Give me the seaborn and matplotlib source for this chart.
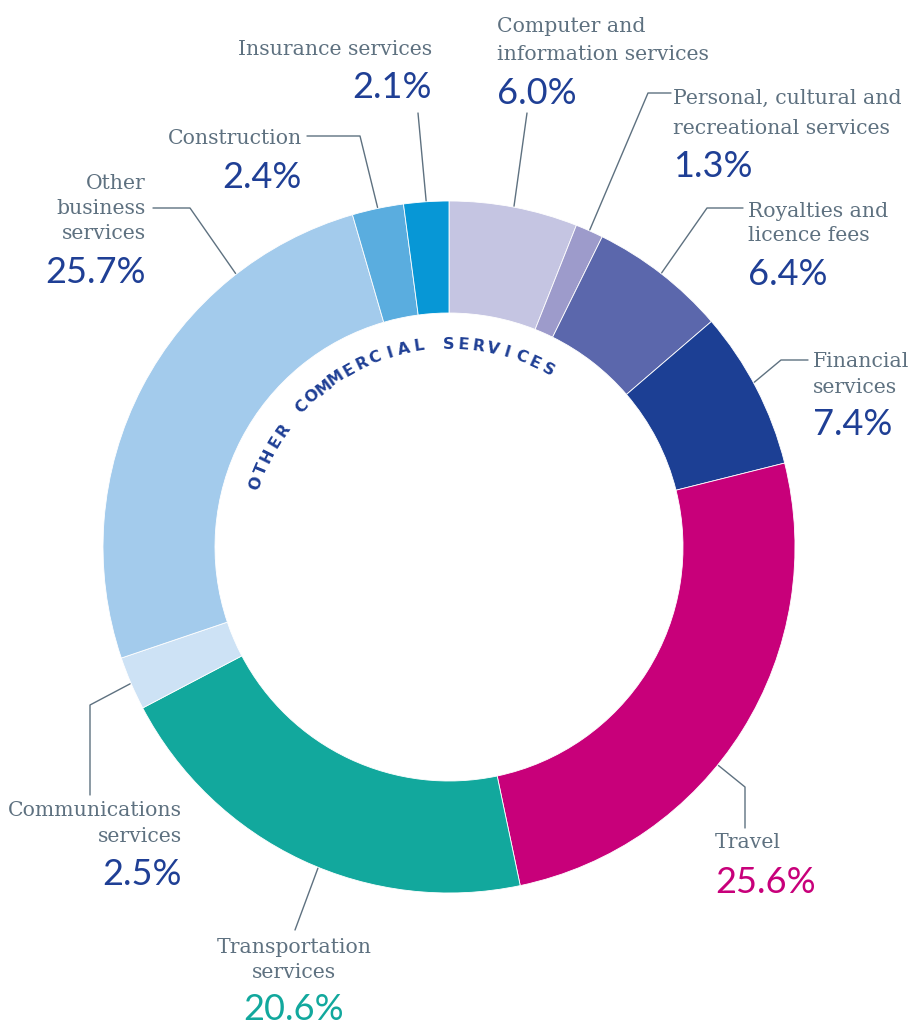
import numpy as np
import matplotlib.pyplot as plt
import seaborn as sns

# shares of other commercial services, clockwise from 12 o'clock
categories = ['Computer and\ninformation services',
              'Personal, cultural and\nrecreational services',
              'Royalties and\nlicence fees',
              'Financial\nservices',
              'Travel',
              'Transportation\nservices',
              'Communications\nservices',
              'Other\nbusiness\nservices',
              'Construction',
              'Insurance services']
shares = [6.0, 1.3, 6.4, 7.4, 25.6, 20.6, 2.5, 25.7, 2.4, 2.1]
ring_title = 'OTHER COMMERCIAL SERVICES'

colors = ['#c5c5e2', '#9d9bcb', '#5b67ac', '#1c3f94', '#c8007a',
          '#12a89d', '#cde2f5', '#a3cbec', '#5aaddf', '#0797d6']
blue = '#1f3f95'
pct_colors = [blue, blue, blue, blue, '#c8007a', '#12a89d', blue, blue, blue, blue]
name_color = '#5e7180'

# label layout in pixel coords (y down): x, ha, line baselines, pct baseline,
# leader path from text towards the ring, shift of anchor angle from wedge mid
layout = [
    (497, 'left', [32, 60], 104, [(527, 113)], 0),
    (673, 'left', [104, 134], 177, [(671, 93), (648, 93)], 0),
    (748, 'left', [217, 241], 285, [(743, 208), (707, 208)], 0),
    (813, 'left', [367, 393], 435, [(808, 360), (781, 360)], 1),
    (715, 'left', [848], 893, [(745, 828), (745, 787)], -7),
    (294, 'center', [953, 978], 1020, [(295, 930)], 3),
    (182, 'right', [816, 842], 885, [(90, 795), (90, 705)], 0),
    (146, 'right', [189, 214, 239], 283, [(153, 208), (190, 208)], -24.5),
    (302, 'right', [144], 188, [(307, 136), (360, 136)], 0),
    (432, 'right', [55], 98, [(418, 113)], 0),
]

sns.set_theme(style='white')
plt.rcParams['font.family'] = ['DejaVu Serif']

W, H = 911, 1025
fig = plt.figure(figsize=(W / 100, H / 100), dpi=100)
ax = fig.add_axes([0, 0, 1, 1])

cx, cy, R, ring = 449, H - 547, 346, 112

ax.pie(shares, colors=sns.color_palette(colors), startangle=90, counterclock=False,
       radius=R, center=(cx, cy),
       wedgeprops=dict(width=ring, edgecolor='white', linewidth=0.6))
ax.set_xlim(0, W)
ax.set_ylim(0, H)
ax.set_axis_off()

# wedge mid angles (degrees, matplotlib convention)
cum = np.cumsum([0] + shares[:-1])
mids = 90 - 3.6 * (cum + np.array(shares) / 2)

for i, cat in enumerate(categories):
    x, ha, bases, pct_base, path, shift = layout[i]
    for line, yb in zip(cat.split('\n'), bases):
        ax.text(x, H - yb, line, ha=ha, va='baseline', fontsize=14.7,
                color=name_color, family='DejaVu Serif')
    ax.text(x, H - pct_base, '{:.1f}%'.format(shares[i]), ha=ha, va='baseline',
            fontsize=26, color=pct_colors[i], family=['Lato', 'DejaVu Sans'])
    th = np.deg2rad(mids[i] + shift)
    pts = [(px, H - py) for px, py in path]
    pts.append((cx + (R + 1) * np.cos(th), cy + (R + 1) * np.sin(th)))
    xs, ys = zip(*pts)
    ax.plot(xs, ys, color=name_color, lw=1)

# curved title along the inside of the ring
angles = np.linspace(161.6, 60.8, len(ring_title))
for ch, a in zip(ring_title, angles):
    t = np.deg2rad(a)
    ax.text(cx + 203 * np.cos(t), cy + 203 * np.sin(t), ch, rotation=a - 90,
            rotation_mode='anchor', ha='center', va='center', fontsize=11.5,
            fontweight='bold', color=blue, family='DejaVu Sans')

fig.savefig('out.png', dpi=100, facecolor='white')
